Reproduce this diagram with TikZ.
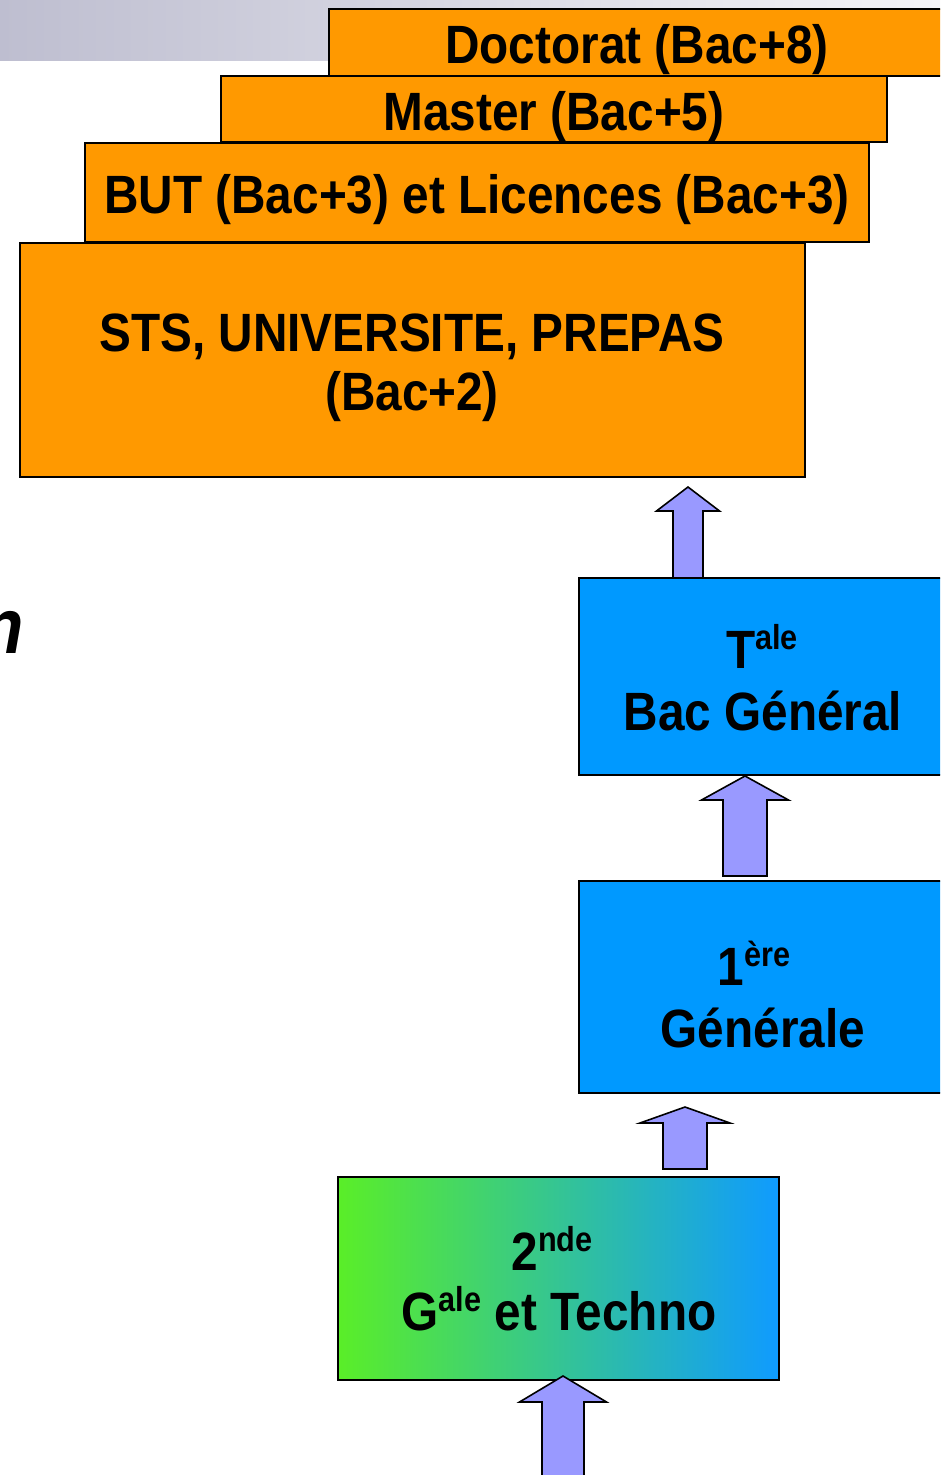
\documentclass[tikz,border=0pt]{standalone}
\usepackage{fontspec}
\setmainfont{Liberation Sans}
\usetikzlibrary{fit,calc}
\definecolor{orng}{RGB}{255,153,0}
\definecolor{blu}{RGB}{0,153,255}
\definecolor{arrfill}{RGB}{153,153,255}
\definecolor{barL}{RGB}{190,190,208}
\definecolor{barR}{RGB}{244,244,248}
\definecolor{grnL}{RGB}{90,238,40}
\definecolor{grnM}{RGB}{76,218,150}
\definecolor{grnR}{RGB}{15,155,255}
\newcommand\blockarrow[5]{\draw[arrowshape] (#1) -- ($(#1)+(#3,#4)$) -- ($(#1)+(#5,#4)$) -- ($(#2)+(#5,0)$) -- ($(#2)+(-#5,0)$) -- ($(#1)+(-#5,#4)$) -- ($(#1)+(-#3,#4)$) -- cycle;}
\newcommand\supx[1]{\raisebox{12.5pt}{\fontsize{23}{23}\selectfont #1}}
\begin{document}
\begin{tikzpicture}[x=0.75pt,y=-0.75pt,
 box/.style={draw=black, line width=1.2pt, inner sep=0pt, outer sep=0pt},
 orangebox/.style={box, fill=orng},
 bluebox/.style={box, fill=blu},
 lbl/.style={anchor=base, inner sep=0pt, yscale=1.13, font=\fontsize{35.8}{40}\selectfont\bfseries},
 arrowshape/.style={draw=black, line width=1.2pt, fill=arrfill, line join=miter}]
\useasboundingbox (0,0) rectangle (940,1475);
\clip (0,0) rectangle (940,1475);
\shade[left color=barL, right color=barR] (0,0) rectangle (940,60);
% boxes
\node[orangebox, fit={(329,9)(945,76)}] (doc) {};
\node[orangebox, fit={(221,76)(887,142)}] (mas) {};
\node[orangebox, fit={(85,143)(869,242)}] (but) {};
\node[orangebox, fit={(20,243)(805,477)}] (sts) {};
\node[bluebox, fit={(579,578)(947,775)}] (tale) {};
\node[bluebox, fit={(579,881)(947,1093)}] (prem) {};
\node[box, left color=grnL, middle color=grnM, right color=grnR, fit={(338,1177)(779,1380)}] (sec) {};
% labels
\node[lbl] (docT) at (637,63) {Doctorat (Bac+8)};
\node[lbl] (masT) at (554,130) {Master (Bac+5)};
\node[lbl] (butT) at (477,213) {BUT (Bac+3) et Licences (Bac+3)};
\node[lbl] (stsA) at (412,351) {STS, UNIVERSITE, PREPAS};
\node[lbl] (stsB) at (412,410) {(Bac+2)};
\node[lbl] (taleA) at (762,668) {T\supx{ale}};
\node[lbl] (taleB) at (763,730) {Bac Général};
\node[lbl] (premA) at (754,985) {1\supx{ère}};
\node[lbl] (premB) at (763,1047) {Générale};
\node[lbl] (secA) at (552,1270) {2\supx{nde}};
\node[lbl] (secB) at (559,1330) {G\supx{ale} et Techno};
% fragment of cut-off title
\node[anchor=base east, inner sep=0pt, yscale=1.13, font=\fontsize{52}{52}\selectfont\bfseries\itshape] (frag) at (24,653) {n};
% arrows
\coordinate (a1t) at (688,487);
\coordinate (a1b) at (688,578);
\blockarrow{a1t}{a1b}{31.5}{24}{15}
\coordinate (a2t) at (745,776);
\coordinate (a2b) at (745,876);
\blockarrow{a2t}{a2b}{43.5}{24}{22}
\coordinate (a3t) at (685,1107);
\coordinate (a3b) at (685,1169);
\blockarrow{a3t}{a3b}{45}{16}{22}
\coordinate (a4t) at (563,1376);
\coordinate (a4b) at (563,1500);
\blockarrow{a4t}{a4b}{43.5}{26}{21}
\end{tikzpicture}
\end{document}
